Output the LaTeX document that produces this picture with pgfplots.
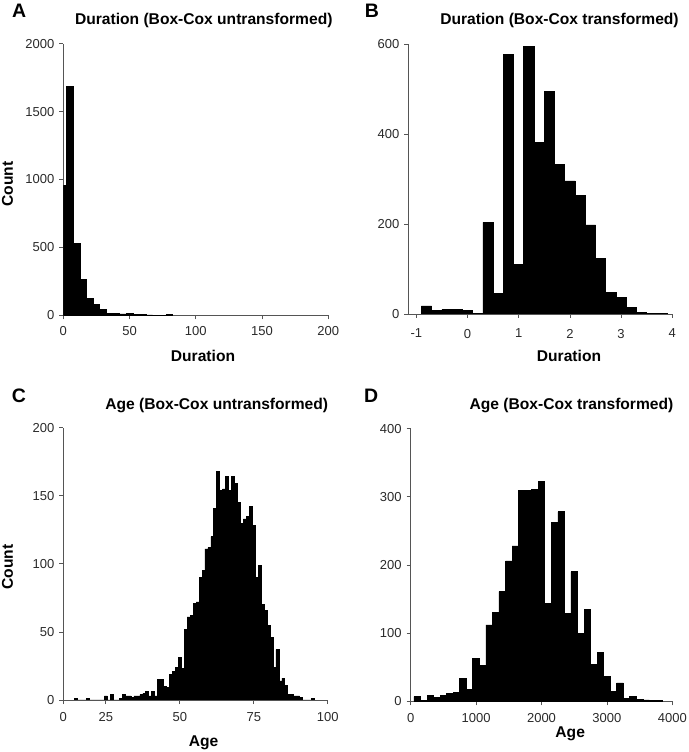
\documentclass[border=0pt]{standalone}
\usepackage{fontspec}
\setmainfont{Liberation Sans}
\usepackage{pgfplots}
\pgfplotsset{compat=1.18}
\definecolor{axgray}{HTML}{555555}
\definecolor{lblgray}{HTML}{2A2A2A}
\pgfplotsset{
  panel/.style={
    scale only axis,
    axis x line*=bottom, axis y line*=left,
    axis line style={draw=axgray, line width=0.8pt},
    every tick/.style={draw=axgray, line width=0.8pt},
    tick align=outside,
    major tick length=4pt,
    ymin=0,
    tick label style={font=\fontsize{13}{13}\selectfont, text=lblgray},
    /pgf/number format/assume math mode=true,
    /pgf/number format/1000 sep={},
    scaled ticks=false,
    yticklabel style={xshift=-1.5pt},
  },
  hist/.style={ybar interval, fill=black, draw=black, line width=0.7pt, mark=none},
}
\newcommand{\ttl}{\bfseries\fontsize{15.6}{15.6}\selectfont}
\newcommand{\letter}{\bfseries\fontsize{19.5}{19.5}\selectfont}
\begin{document}
\begin{tikzpicture}[x=1pt,y=1pt]
\path[use as bounding box] (0,0) rectangle (688,752);

% ---------------- A ----------------
\begin{axis}[panel, at={(63.3pt,436.7pt)}, anchor=south west,
  width=265pt, height=271.6pt,
  xmin=0, xmax=200, ymax=2000,
  xtick={0,50,100,150,200}, ytick={0,500,1000,1500,2000},
  xticklabel style={yshift=-3.7pt}]
\addplot[hist] coordinates {
(0,957) (2.5,1688) (7.5,528) (12.5,267) (17.5,123) (22.5,80) (27.5,42)
(32.5,16) (37.5,12) (42.5,10) (47.5,12) (52.5,7) (57.5,5) (62.5,3)
(67.5,1) (72.5,1) (77.5,4) (82.5,0)};
\end{axis}

% ---------------- B ----------------
\begin{axis}[panel, at={(408.3pt,438pt)}, anchor=south west,
  width=264pt, height=269.7pt,
  xmin=-1.156, xmax=4, ymax=600,
  xtick={-1,0,1,2,3,4}, ytick={0,200,400,600},
  xticklabel style={yshift=-7.5pt}]
\addplot[hist] coordinates {
(-0.9,18) (-0.7,7) (-0.5,10) (-0.3,10) (-0.1,7) (0.1,2) (0.3,204)
(0.5,46) (0.7,577) (0.9,110) (1.1,595) (1.3,382) (1.5,496) (1.7,333)
(1.9,296) (2.1,263) (2.3,198) (2.5,124) (2.7,48) (2.9,36) (3.1,15)
(3.3,4) (3.5,1) (3.7,2) (3.9,0)};
\end{axis}

% ---------------- C ----------------
\begin{axis}[panel, at={(63.3pt,52pt)}, anchor=south west,
  width=264.4pt, height=272.3pt,
  xmin=10.6, xmax=100, ymax=200,
  xtick={10.6,25,50,75,100}, xticklabels={0,25,50,75,100},
  ytick={0,50,100,150,200},
  xticklabel style={yshift=-5pt}]
\addplot[hist] coordinates {
(14.5,1) (15.5,0) (16.5,0) (17.5,0) (18.5,1) (19.5,0) (20.5,0) (21.5,0)
(22.5,0) (23.5,0) (24.5,3) (25.5,0) (26.5,4) (27.5,0) (28.5,0) (29.5,1)
(30.5,4) (31.5,3) (32.5,3) (33.5,2) (34.5,3) (35.5,3) (36.5,4) (37.5,5)
(38.5,6) (39.5,3) (40.5,6) (41.5,3) (42.5,15) (43.5,15) (44.5,10) (45.5,9)
(46.5,19) (47.5,21) (48.5,24) (49.5,31) (50.5,23) (51.5,52) (52.5,61)
(53.5,62) (54.5,71) (55.5,72) (56.5,90) (57.5,95) (58.5,111) (59.5,112)
(60.5,120) (61.5,141) (62.5,168) (63.5,154) (64.5,155) (65.5,164)
(66.5,154) (67.5,164) (68.5,159) (69.5,145) (70.5,130) (71.5,133)
(72.5,135) (73.5,142) (74.5,128) (75.5,90) (76.5,99) (77.5,70) (78.5,66)
(79.5,55) (80.5,46) (81.5,24) (82.5,37) (83.5,14) (84.5,16) (85.5,11)
(86.5,4) (87.5,4) (88.5,3) (89.5,3) (90.5,2) (91.5,0) (92.5,0) (93.5,0)
(94.5,1) (95.5,0)};
\end{axis}

% ---------------- D ----------------
\begin{axis}[panel, at={(410.7pt,50.7pt)}, anchor=south west,
  width=261.6pt, height=272.6pt,
  xmin=0, xmax=4000, ymax=400,
  xtick={0,1000,2000,3000,4000}, ytick={0,100,200,300,400},
  xticklabel style={yshift=-4.5pt}]
\addplot[hist] coordinates {
(50,7) (150,1) (250,8) (350,6) (450,8) (550,12) (650,13) (750,33)
(850,17) (950,63) (1050,53) (1150,112) (1250,131) (1350,161) (1450,206)
(1550,228) (1650,309) (1750,309) (1850,311) (1950,323) (2050,144)
(2150,262) (2250,278) (2350,129) (2450,190) (2550,99) (2650,135)
(2750,54) (2850,72) (2950,36) (3050,14) (3150,27) (3250,4) (3350,7)
(3450,3) (3550,2) (3650,1) (3750,1) (3850,0)};
\end{axis}

% ---------------- texts ----------------
\node[anchor=base west, inner sep=0, font=\letter] at (12,734) {A};
\node[anchor=base west, inner sep=0, font=\letter] at (364.7,734) {B};
\node[anchor=base west, inner sep=0, font=\letter] at (11.7,349.3) {C};
\node[anchor=base west, inner sep=0, font=\letter] at (364,349.3) {D};

\node[anchor=base, inner sep=0, font=\ttl] at (203.8,727) {Duration (Box-Cox untransformed)};
\node[anchor=base, inner sep=0, font=\ttl] at (559.5,727) {Duration (Box-Cox transformed)};
\node[anchor=base, inner sep=0, font=\ttl] at (216.7,342.7) {Age (Box-Cox untransformed)};
\node[anchor=base, inner sep=0, font=\ttl] at (571.5,342.7) {Age (Box-Cox transformed)};

\node[rotate=90, inner sep=0, font=\ttl] at (7.5,568) {Count};
\node[rotate=90, inner sep=0, font=\ttl] at (7.5,185) {Count};

\node[anchor=base, inner sep=0, font=\ttl] at (203,390.3) {Duration};
\node[anchor=base, inner sep=0, font=\ttl] at (569,390.3) {Duration};
\node[anchor=base, inner sep=0, font=\ttl] at (203.5,5.5) {Age};
\node[anchor=base, inner sep=0, font=\ttl] at (570.2,14.5) {Age};
\end{tikzpicture}
\end{document}
